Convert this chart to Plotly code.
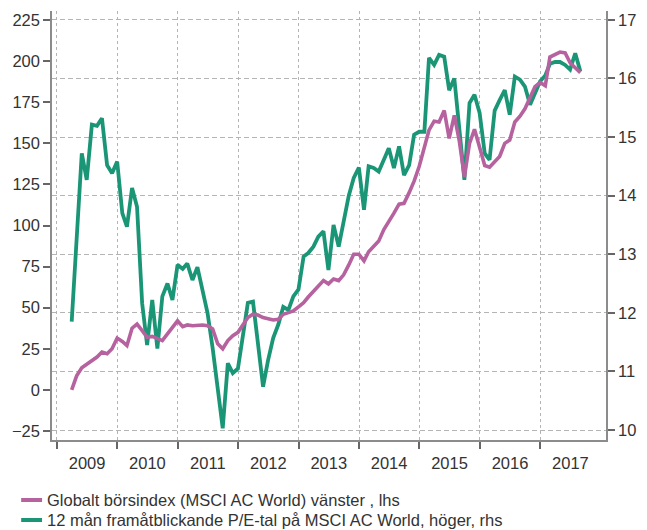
import pandas as pd
import plotly.graph_objects as go

# månadsdata mars 2009 - aug 2017
dates = pd.date_range("2009-03-31", "2017-08-31", freq="ME")

# Globalt börsindex (MSCI AC World), vänster axel
index_lhs = [
    0, 8.5, 13.5, 15.5, 17.5, 20, 23, 22, 25, 31.5,
    29.5, 27, 37.5, 40, 36, 32, 32.5, 31, 30, 34, 38, 42,
    38.5, 39.5, 39, 39.5, 39.5, 39, 37, 28, 25, 30, 33, 35,
    40, 44, 46, 45.5, 44, 43, 42.5, 43, 46, 47, 48, 50.5,
    53, 56.5, 60, 63.5, 66.5, 64.5, 67.5, 66.5, 70, 76, 82.5, 82.5,
    78.5, 84, 87, 90.5, 97.5, 102, 107.5, 113, 113.5, 120, 127, 136,
    147, 158, 163.5, 163, 170, 153, 167, 151, 129.5, 150, 158.5, 147,
    136.5, 135.5, 139, 142, 150, 152, 163, 166.5, 171, 178, 184.5, 187,
    185, 202.5, 204, 205.5, 205, 199, 196, 193,
]

# 12 mån framåtblickande P/E-tal, höger axel
pe_rhs = [
    11.85, 13.3, 14.72, 14.27, 15.21, 15.19, 15.32, 14.52, 14.38, 14.58,
    13.70, 13.47, 14.13, 13.81, 12.16, 11.45, 12.22, 11.39, 12.28, 12.50, 12.22, 12.82,
    12.75, 12.84, 12.56, 12.78, 12.40, 12.0, 11.4, 10.72, 10.03, 11.14, 10.97, 11.05,
    11.62, 12.17, 12.19, 11.5, 10.74, 11.19, 11.57, 11.8, 12.1, 12.05, 12.28, 12.40,
    12.96, 13.02, 13.13, 13.30, 13.39, 12.73, 13.50, 13.13, 13.55, 14.0, 14.3, 14.48,
    13.76, 14.50, 14.47, 14.41, 14.61, 14.81, 14.47, 14.84, 14.35, 14.52, 15.04, 15.09,
    15.09, 16.35, 16.23, 16.40, 16.37, 15.80, 16.0, 15.12, 14.27, 15.58, 15.72, 15.41,
    14.72, 14.61, 15.45, 15.63, 15.80, 15.38, 16.03, 15.98, 15.86, 15.55, 15.75, 15.95,
    16.05, 16.25, 16.28, 16.28, 16.23, 16.15, 16.43, 16.12,
]

years = list(range(2009, 2018))
lhs_ticks = list(range(-25, 226, 25))
rhs_ticks = list(range(10, 18))

names = [
    "Globalt börsindex (MSCI AC World) vänster , lhs",
    "12 mån framåtblickande P/E-tal på MSCI AC World, höger, rhs",
]

PURPLE = "#b5629f"
GREEN = "#1a9677"
AXIS = "#8c8c8c"
GRID = "#b4b4b4"
TEXT = "#333333"
FONT = dict(family="Liberation Sans, Arial, sans-serif", size=16.5, color=TEXT)

W, H = 647, 530
L, R, T, B = 52, 38, 11, 90

fig = go.Figure()
fig.add_trace(go.Scatter(x=dates, y=pe_rhs, yaxis="y", mode="lines",
                         line=dict(color=GREEN, width=3.8), name=names[1]))
fig.add_trace(go.Scatter(x=dates, y=index_lhs, yaxis="y2", mode="lines",
                         line=dict(color=PURPLE, width=3.6), name=names[0]))

fig.update_layout(
    width=W, height=H,
    margin=dict(l=L, r=R, t=T, b=B),
    paper_bgcolor="white", plot_bgcolor="white",
    showlegend=False,
    font=FONT,
    xaxis=dict(
        type="date", range=["2008-12-02", "2018-02-02"],
        tickvals=[f"{y}-07-02" for y in years], ticktext=[str(y) for y in years],
        ticks="", showgrid=False, zeroline=False,
        showline=True, linecolor=AXIS, linewidth=1.5,
        ticklabelstandoff=7,
        minor=dict(tickvals=[f"{y}-01-01" for y in years], ticks="outside",
                   ticklen=7, tickwidth=1.5, tickcolor="#666",
                   showgrid=True, gridcolor=GRID, gridwidth=1, griddash="3px,3px"),
    ),
    yaxis=dict(
        side="right", range=[9.83, 17.15], tickvals=rhs_ticks,
        ticks="outside", ticklen=7, tickwidth=1.5, tickcolor="#666",
        showgrid=True, gridcolor=GRID, gridwidth=1, griddash="5px,3px",
        showline=True, linecolor=AXIS, linewidth=1.5, zeroline=False,
    ),
    yaxis2=dict(
        side="left", overlaying="y", range=[-30.5, 230.5], tickvals=lhs_ticks,
        ticks="outside", ticklen=7, tickwidth=1.5, tickcolor="#666",
        showgrid=False, showline=True, linecolor=AXIS, linewidth=1.5, zeroline=False,
    ),
)


# legend drawn by hand (short line + text), positions in pixels
def px_x(x):
    return (x - L) / (W - L - R)


def px_y(y):
    return (H - B - y) / (H - T - B)


for name, color, y in [(names[0], PURPLE, 500), (names[1], GREEN, 520)]:
    fig.add_shape(type="line", xref="paper", yref="paper",
                  x0=px_x(21), x1=px_x(42), y0=px_y(y), y1=px_y(y),
                  line=dict(color=color, width=4))
    fig.add_annotation(xref="paper", yref="paper", x=px_x(45), y=px_y(y),
                       xanchor="left", yanchor="middle", showarrow=False,
                       text=name, font=FONT)

# page margin off so the figure sits at the window's top-left corner
fig.write_html("out.html", config={"displayModeBar": False},
               post_script="document.body.style.margin='0px';")
